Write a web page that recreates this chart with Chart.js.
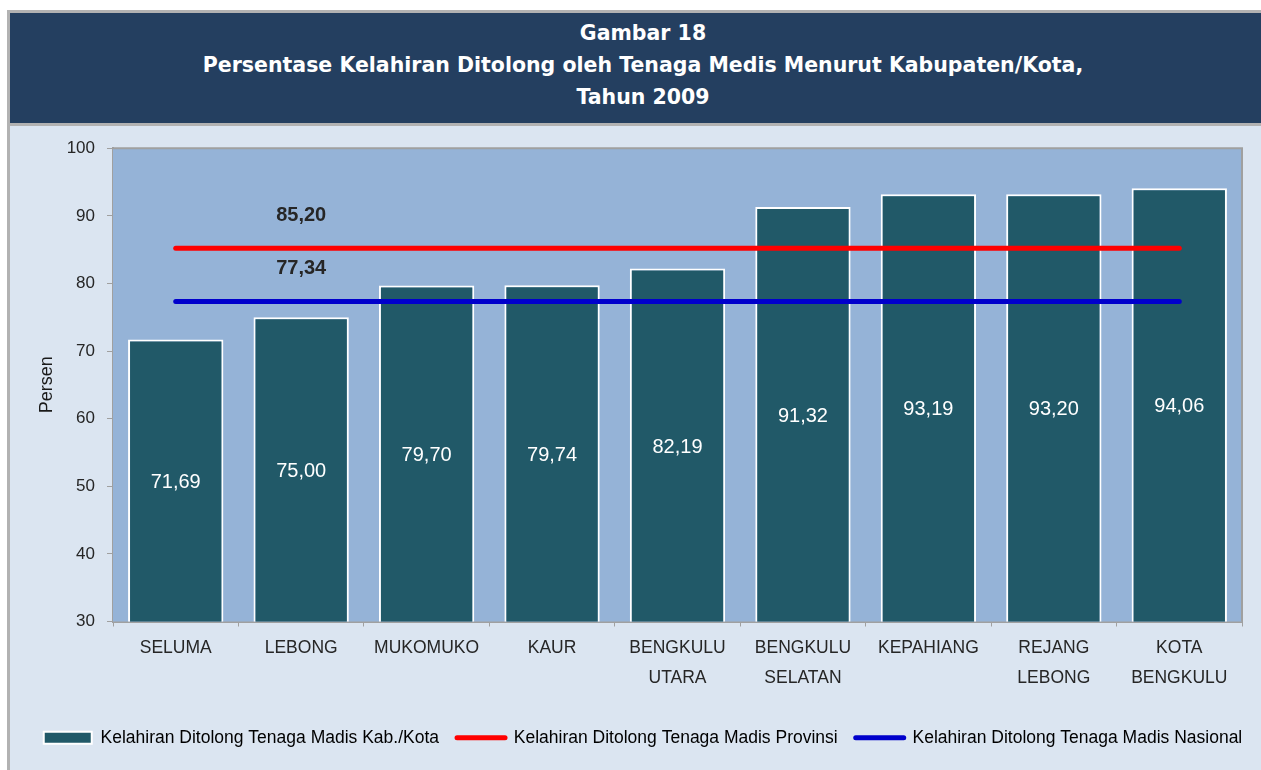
<!DOCTYPE html>
<html>
<head>
<meta charset="utf-8">
<script src="https://cdn.jsdelivr.net/npm/chart.js@4/dist/chart.umd.min.js"></script>
<style>
  body { margin: 0; background: #fff; overflow: hidden; }
  #frame {
    position: absolute; left: 7px; top: 10px; width: 1266px; height: 770px;
    border-left: 3px solid #b2b2b2; border-top: 3px solid #b2b2b2;
  }
  #head {
    height: 106px; padding-top: 4px; background: #243f60;
    border-bottom: 3px solid #b2b2b2; color: #fff; text-align: center;
    font: bold 20.5px "DejaVu Sans", sans-serif; line-height: 32px;
  }
  #body { position: relative; width: 1266px; height: 644px; background: #dbe5f1; }
</style>
</head>
<body>
<div id="frame">
  <div id="head">
    <div>Gambar 18</div>
    <div>Persentase Kelahiran Ditolong oleh Tenaga Medis Menurut Kabupaten/Kota,</div>
    <div>Tahun 2009</div>
  </div>
  <div id="body"><canvas id="chart" width="1266" height="644"></canvas></div>
</div>
<script>
// data
const categories = [
  ["SELUMA"], ["LEBONG"], ["MUKOMUKO"], ["KAUR"], ["BENGKULU", "UTARA"],
  ["BENGKULU", "SELATAN"], ["KEPAHIANG"], ["REJANG", "LEBONG"], ["KOTA", "BENGKULU"],
];
const kabKota = [71.69, 75.0, 79.7, 79.74, 82.19, 91.32, 93.19, 93.2, 94.06];
const provinsi = [85.2, 85.2, 85.2, 85.2, 85.2, 85.2, 85.2, 85.2, 85.2];
const nasional = [77.34, 77.34, 77.34, 77.34, 77.34, 77.34, 77.34, 77.34, 77.34];
const yTicks = [30, 40, 50, 60, 70, 80, 90, 100];

const FONT = "'Liberation Sans', Arial, sans-serif";
const fmt = (v) => v.toFixed(2).replace(".", ",");

// plot area background + frame
const plotBg = {
  id: "plotBg",
  beforeDatasetsDraw(chart) {
    const { ctx, chartArea: a } = chart;
    ctx.save();
    ctx.fillStyle = "#95b3d7";
    ctx.fillRect(a.left, a.top, a.right - a.left, a.bottom - a.top);
    ctx.strokeStyle = "#a0a0a0";
    ctx.lineWidth = 2;
    ctx.beginPath();
    ctx.moveTo(a.left, a.top);
    ctx.lineTo(a.right, a.top);
    ctx.lineTo(a.right, a.bottom);
    ctx.stroke();
    ctx.restore();
  },
};

// value labels
const valueLabels = {
  id: "valueLabels",
  afterDatasetsDraw(chart) {
    const { ctx, chartArea } = chart;
    ctx.save();
    ctx.textAlign = "center";
    ctx.textBaseline = "middle";
    // bars: white, centred in the visible part of the bar
    ctx.fillStyle = "#ffffff";
    ctx.font = "20px " + FONT;
    chart.getDatasetMeta(0).data.forEach((bar, i) => {
      const base = Math.min(bar.base, chartArea.bottom);
      ctx.fillText(fmt(kabKota[i]), bar.x, (bar.y + base) / 2 + 2);
    });
    // reference lines: one bold label above the second point
    ctx.fillStyle = "#262626";
    ctx.font = "bold 20px " + FONT;
    [[1, provinsi], [2, nasional]].forEach(([idx, arr]) => {
      const pt = chart.getDatasetMeta(idx).data[1];
      ctx.fillText(fmt(arr[1]), pt.x, pt.y - 33);
    });
    ctx.restore();
  },
};

const ctx = document.getElementById("chart").getContext("2d");
new Chart(ctx, {
  type: "bar",
  data: {
    labels: categories,
    datasets: [
      {
        label: "Kelahiran Ditolong Tenaga Madis Kab./Kota",
        data: kabKota,
        backgroundColor: "#215968",
        borderColor: "#ffffff",
        borderWidth: 2,
        categoryPercentage: 1,
        barPercentage: 0.76,
        order: 3,
      },
      {
        type: "line",
        label: "Kelahiran Ditolong Tenaga Madis Provinsi",
        data: provinsi,
        borderColor: "#ff0000",
        backgroundColor: "#ff0000",
        borderWidth: 5,
        borderCapStyle: "round",
        pointRadius: 0,
        order: 2,
      },
      {
        type: "line",
        label: "Kelahiran Ditolong Tenaga Madis Nasional",
        data: nasional,
        borderColor: "#0000cc",
        backgroundColor: "#0000cc",
        borderWidth: 5,
        borderCapStyle: "round",
        pointRadius: 0,
        order: 1,
      },
    ],
  },
  options: {
    responsive: false,
    animation: false,
    layout: { padding: { top: 21, right: 0, bottom: 13.5, left: 0 } },
    scales: {
      x: {
        grid: { drawOnChartArea: false, drawTicks: true, tickLength: 5, color: "#a0a0a0", offset: true },
        border: { color: "#a0a0a0", width: 2 },
        ticks: { color: "#262626", padding: 7, maxRotation: 0, font: { size: 17.5, family: FONT, lineHeight: "30px" } },
        afterFit(scale) { scale.height = 89.5; },
      },
      y: {
        min: 30,
        max: 100,
        afterBuildTicks(scale) { scale.ticks = yTicks.map((v) => ({ value: v })); },
        grid: { drawOnChartArea: false, drawTicks: true, tickLength: 6, color: "#a0a0a0" },
        border: { color: "#a0a0a0", width: 2 },
        ticks: { color: "#262626", padding: 12, font: { size: 17, family: FONT } },
        title: { display: true, text: "Persen", color: "#1a1a1a", padding: { top: 26 }, font: { size: 18, family: FONT } },
        afterFit(scale) { scale.width = 103; },
      },
      // empty spacer on the right so the legend can use the full width
      gap: {
        position: "right",
        grid: { display: false },
        border: { display: false },
        ticks: { display: false },
        afterFit(scale) { scale.width = 34; },
      },
    },
    plugins: {
      tooltip: { enabled: false },
      legend: {
        position: "bottom",
        labels: {
          usePointStyle: true,
          pointStyleWidth: 48,
          boxHeight: 12,
          padding: 18,
          color: "#262626",
          font: { size: 17.5, family: FONT },
          generateLabels(chart) {
            return chart.data.datasets.map((ds, i) => ({
              text: ds.label,
              fillStyle: ds.backgroundColor,
              strokeStyle: i === 0 ? "#ffffff" : ds.borderColor,
              lineWidth: i === 0 ? 2 : 5,
              lineCap: "round",
              pointStyle: i === 0 ? "rect" : "line",
              datasetIndex: i,
              hidden: false,
            }));
          },
        },
      },
    },
  },
  plugins: [plotBg, valueLabels],
});
</script>
</body>
</html>
